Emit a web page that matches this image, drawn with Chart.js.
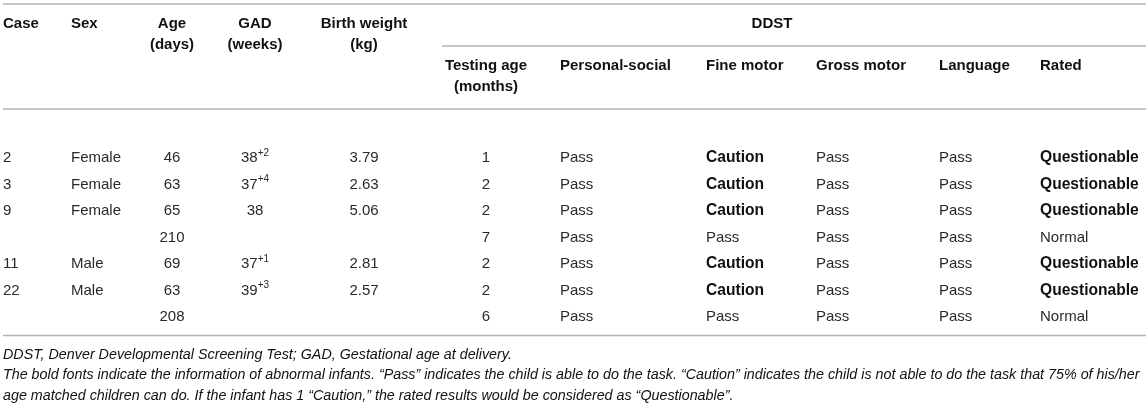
<!DOCTYPE html>
<html>
<head>
<meta charset="utf-8">
<script src="https://cdn.jsdelivr.net/npm/chart.js@4/dist/chart.umd.min.js"></script>
<style>
  body { margin: 0; background: #fff; }
  canvas { display: block; }
</style>
</head>
<body>
<canvas id="tableChart" width="1146" height="407"></canvas>
<script>
// table values, one list per column
var caseNo = ["2", "3", "9", "", "11", "22", ""];
var sex = ["Female", "Female", "Female", "", "Male", "Male", ""];
var ageDays = ["46", "63", "65", "210", "69", "63", "208"];
var gadWeeks = ["38", "37", "38", "", "37", "39", ""];
var gadPlus = ["+2", "+4", "", "", "+1", "+3", ""];
var birthWeight = ["3.79", "2.63", "5.06", "", "2.81", "2.57", ""];
var testingAge = ["1", "2", "2", "7", "2", "2", "6"];
var personalSocial = ["Pass", "Pass", "Pass", "Pass", "Pass", "Pass", "Pass"];
var fineMotor = ["Caution", "Caution", "Caution", "Pass", "Caution", "Caution", "Pass"];
var grossMotor = ["Pass", "Pass", "Pass", "Pass", "Pass", "Pass", "Pass"];
var language = ["Pass", "Pass", "Pass", "Pass", "Pass", "Pass", "Pass"];
var rated = ["Questionable", "Questionable", "Questionable", "Normal", "Questionable", "Questionable", "Normal"];

var boldWords = ["Caution", "Questionable"];

var footnotes = [
	"DDST, Denver Developmental Screening Test; GAD, Gestational age at delivery.",
	"The bold fonts indicate the information of abnormal infants. \u201cPass\u201d indicates the child is able to do the task. \u201cCaution\u201d indicates the child is not able to do the task that 75% of his/her",
	"age matched children can do. If the infant has 1 \u201cCaution,\u201d the rated results would be considered as \u201cQuestionable\u201d."
];

// column layout: x position on the x scale and alignment
var columns = [
	{ values : caseNo, x : 3, align : "left", head : ["Case"], headRow : 1 },
	{ values : sex, x : 71, align : "left", head : ["Sex"], headRow : 1 },
	{ values : ageDays, x : 172, align : "center", head : ["Age", "(days)"], headRow : 1 },
	{ values : gadWeeks, sup : gadPlus, x : 255, align : "center", head : ["GAD", "(weeks)"], headRow : 1 },
	{ values : birthWeight, x : 364, align : "center", head : ["Birth weight", "(kg)"], headRow : 1 },
	{ values : testingAge, x : 486, align : "center", head : ["Testing age", "(months)"], headRow : 2 },
	{ values : personalSocial, x : 560, align : "left", head : ["Personal-social"], headRow : 2 },
	{ values : fineMotor, x : 706, align : "left", head : ["Fine motor"], headRow : 2 },
	{ values : grossMotor, x : 816, align : "left", head : ["Gross motor"], headRow : 2 },
	{ values : language, x : 939, align : "left", head : ["Language"], headRow : 2 },
	{ values : rated, x : 1040, align : "left", head : ["Rated"], headRow : 2 }
];

var FONT = "'Liberation Sans', Arial, Helvetica, sans-serif";
var RULE = "#b4b4b4";
var INK = "#111";

var datasets = columns.map(function(col) {
	return {
		data : col.values.map(function(v, i) { return { x : col.x, y : i }; }),
		pointRadius : 0,
		pointHoverRadius : 0,
		showLine : false,
		col : col
	};
});

function hline(ctx, x1, x2, y) {
	ctx.save();
	ctx.strokeStyle = RULE;
	ctx.lineWidth = 1.6;
	ctx.beginPath();
	ctx.moveTo(x1, y);
	ctx.lineTo(x2, y);
	ctx.stroke();
	ctx.restore();
}

var tablePlugin = {
	id : "tableText",
	afterDatasetsDraw : function(chart) {
		var ctx = chart.ctx;
		var xs = chart.scales.x;
		var ys = chart.scales.y;
		var left = xs.getPixelForValue(3);
		var right = xs.getPixelForValue(1146);
		var rowH = ys.getPixelForValue(1) - ys.getPixelForValue(0);

		ctx.save();
		ctx.textBaseline = "middle";
		ctx.fillStyle = INK;

		// rules
		hline(ctx, left, right, 4);
		hline(ctx, xs.getPixelForValue(442), right, 46);
		hline(ctx, left, right, 109);
		hline(ctx, left, right, ys.getPixelForValue(6) + rowH * 0.7);

		// header
		ctx.font = "bold 15px " + FONT;
		ctx.textAlign = "center";
		ctx.fillText("DDST", xs.getPixelForValue(772), 24);
		columns.forEach(function(col) {
			var x = xs.getPixelForValue(col.x);
			var y0 = col.headRow == 1 ? 24 : 66;
			ctx.textAlign = col.align;
			col.head.forEach(function(line, k) {
				ctx.fillText(line, x, y0 + k * 21);
			});
		});

		// cells
		chart.data.datasets.forEach(function(ds, d) {
			var meta = chart.getDatasetMeta(d);
			var col = ds.col;
			meta.data.forEach(function(pt, i) {
				var txt = col.values[i];
				if (!txt) return;
				var bold = boldWords.indexOf(txt) >= 0;
				ctx.font = (bold ? "bold 15.6px " : "15px ") + FONT;
				ctx.fillStyle = bold ? INK : "#2a2a2a";
				if (col.sup && col.sup[i]) {
					var w1 = ctx.measureText(txt).width;
					ctx.font = "10px " + FONT;
					var w2 = ctx.measureText(col.sup[i]).width;
					var sx = pt.x - (w1 + w2) / 2;
					ctx.textAlign = "left";
					ctx.fillText(col.sup[i], sx + w1, pt.y - 5);
					ctx.font = "15px " + FONT;
					ctx.fillText(txt, sx, pt.y);
				} else {
					ctx.textAlign = col.align;
					ctx.fillText(txt, pt.x, pt.y);
				}
			});
		});

		// footnotes
		ctx.fillStyle = INK;
		ctx.textAlign = "left";
		ctx.font = "italic 14.3px " + FONT;
		footnotes.forEach(function(line, k) {
			ctx.fillText(line, left, 355 + k * 20.5);
		});
		ctx.restore();
	}
};

var chart = new Chart(document.getElementById("tableChart"), {
	type : "scatter",
	data : { datasets : datasets },
	options : {
		responsive : false,
		animation : false,
		events : [],
		layout : { padding : { top : 144.75, bottom : 76.75, left : 0, right : 0 } },
		plugins : {
			legend : { display : false },
			tooltip : { enabled : false }
		},
		scales : {
			x : { type : "linear", min : 0, max : 1146, display : false },
			y : { type : "linear", min : -0.5, max : 6.5, reverse : true, display : false }
		}
	},
	plugins : [tablePlugin]
});
</script>
</body>
</html>
